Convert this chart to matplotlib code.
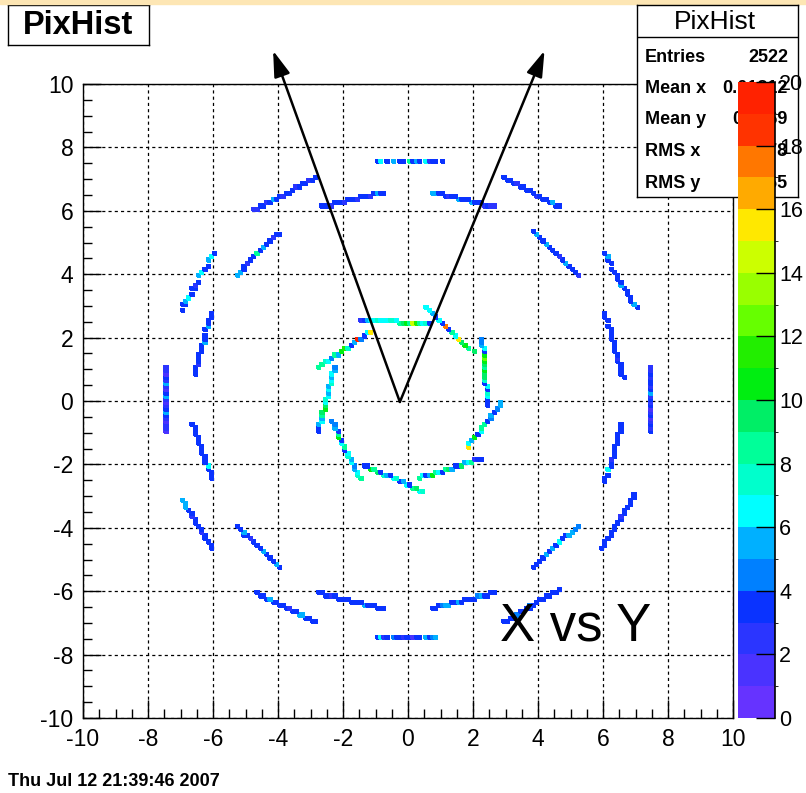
import numpy as np
import matplotlib
matplotlib.use('Agg')
import matplotlib.pyplot as plt
from matplotlib.colors import ListedColormap, BoundaryNorm
from matplotlib.patches import Rectangle

plt.rcParams['font.family'] = ['Liberation Sans', 'DejaVu Sans']
plt.rcParams['axes.unicode_minus'] = False

# pixel module hits: (x0, y0, x1, y1) of each module strip, counts read along it
OUTER_SEGS = [
    (-1.00, 7.50, 1.00, 7.50),
    (-1.00, -7.50, 0.90, -7.50),
    (-7.48, 1.04, -7.48, -0.98),
    (7.48, 1.04, 7.48, -0.98),
    (-4.71, 6.00, -2.83, 7.03),
    (-2.62, 6.12, -0.74, 6.59),
    (-5.29, 3.97, -3.94, 5.30),
    (-6.98, 2.90, -5.97, 4.70),
    (-6.58, 0.88, -6.06, 2.71),
    (0.74, 6.59, 2.68, 6.12),
    (2.92, 7.03, 4.62, 6.12),
    (3.85, 5.33, 5.29, 3.91),
    (6.06, 4.61, 7.02, 2.97),
    (6.06, 2.74, 6.62, 0.73),
    (-6.62, -0.73, -6.03, -2.49),
    (-6.92, -3.12, -6.03, -4.61),
    (-5.29, -3.91, -3.94, -5.27),
    (-4.62, -6.06, -2.83, -6.97),
    (-2.71, -6.06, -0.71, -6.56),
    (0.74, -6.53, 2.68, -6.06),
    (2.92, -6.97, 4.68, -5.96),
    (3.85, -5.27, 5.23, -3.91),
    (5.97, -4.67, 6.98, -2.93),
    (6.06, -2.59, 6.58, -0.73),
]
OUTER_COUNTS = [
    [3, 3, 0, 3, 5, 0, 0, 3, 3, 5, 3, 3, 5, 3, 3, 3, 2, 3, 3, 3],
    [3, 3, 2, 3, 3, 1, 3, 3, 2, 3, 3, 1, 3, 3, 2, 3, 3, 4, 5],
    [2, 1, 3, 2, 5, 2, 1, 3, 5, 2, 1, 2, 3, 5, 3, 2, 1, 2, 2, 1],
    [2, 3, 2, 3, 3, 2, 3, 5, 2, 3, 2, 3, 1, 2, 3, 1, 2, 3, 2, 3],
    [2, 3, 3, 2, 3, 5, 3, 3, 2, 3, 3, 3, 2, 3, 3, 3, 2, 3, 3],
    [3, 3, 2, 3, 3, 3, 2, 3, 3, 3, 2, 3, 3, 3, 2, 3, 5, 3, 3],
    [5, 3, 3, 2, 3, 3, 8, 3, 5, 3, 3, 2, 3, 3],
    [3, 3, 5, 6, 3, 3, 3, 2, 3, 5, 3, 3, 3, 3, 5, 3, 3, 3],
    [3, 3, 2, 3, 3, 3, 3, 3, 3, 5, 3, 3, 3, 5, 3, 3, 3, 3],
    [5, 3, 3, 3, 2, 3, 3, 5, 3, 3, 3, 5, 3, 3, 3, 2, 3, 2, 2],
    [3, 3, 3, 2, 3, 3, 3, 3, 3, 2, 3, 3, 3, 3, 5, 3, 3],
    [3, 5, 3, 3, 5, 3, 3, 3, 2, 3, 5, 3, 3, 3, 2],
    [3, 5, 3, 3, 3, 3, 3, 3, 3, 5, 3, 3, 3, 3, 3, 5, 3],
    [3, 3, 0, 3, 3, 3, 3, 3, 3, 3, 3, 3, 3, 2, 3, 3, 3, 3, 3, 3],
    [3, 3, 3, 3, 3, 3, 3, 3, 3, 3, 3, 3, 3, 3, 3, 3, 3, 3],
    [5, 5, 3, 3, 2, 3, 3, 3, 3, 2, 3, 3, 3, 3, 3],
    [3, 5, 3, 3, 2, 3, 3, 3, 5, 3, 3, 3, 5, 3],
    [3, 3, 3, 5, 3, 3, 3, 3, 3, 2, 3, 3, 5, 5, 3, 3, 3, 3],
    [3, 3, 3, 2, 3, 3, 3, 3, 3, 3, 3, 3, 3, 5, 3, 3, 3, 3, 3, 3],
    [3, 3, 4, 5, 5, 3, 3, 5, 3, 3, 3, 3, 3, 4, 5, 3, 3, 3, 3],
    [3, 3, 3, 4, 3, 3, 3, 3, 4, 3, 3, 3, 3, 3, 3, 3, 3, 3],
    [3, 3, 3, 5, 3, 5, 3, 6, 3, 3, 5, 5, 4, 4],
    [3, 3, 3, 3, 3, 3, 3, 3, 3, 3, 2, 3, 3, 3, 3, 3, 3, 3],
    [3, 3, 0, 3, 3, 3, 3, 2, 3, 3, 3, 3, 3, 3, 3, 3, 3, 3],
]

INNER_SEGS = [
    (-1.48, 2.55, 0.62, 2.46),
    (0.55, 2.93, 2.00, 1.55),
    (2.28, 1.92, 2.46, -0.16),
    (2.89, -0.03, 1.82, -1.48),
    (2.28, -1.83, 0.37, -2.43),
    (-1.38, -2.02, 0.46, -2.87),
    (-2.34, -0.69, -1.48, -2.49),
    (-2.77, -0.95, -2.25, 1.04),
    (-2.71, 1.07, -1.14, 2.18),
]
INNER_COUNTS = [
    [2, 3, 5, 6, 6, 7, 6, 6, 6, 7, 7, 6, 8, 9, 10, 8, 14, 11, 8, 6, 7, 3],
    [6, 5, 3, 6, 3, 17, 3, 8, 6, 15, 9, 10, 8, 9],
    [4, 5, 6, 3, 10, 12, 10, 9, 8, 10, 9, 7, 3, 6, 3, 7, 6, 3, 3, 3],
    [5, 4, 3, 5, 4, 3, 8, 6, 3, 10, 5, 6, 15],
    [3, 2, 8, 6, 5, 9, 3, 3, 5, 9, 8, 3, 6, 8, 10, 5, 3, 6, 8],
    [3, 10, 8, 9, 3, 7, 5, 3, 6, 7, 3, 5, 6, 3, 8, 9, 6, 7],
    [4, 5, 3, 8, 10, 3, 6, 8, 3, 6, 7, 5, 6, 4, 5, 6, 7, 8],
    [3, 5, 6, 5, 8, 9, 10, 9, 6, 7, 6, 5, 6, 5, 7, 6, 5, 6, 5, 4],
    [8, 7, 6, 4, 8, 5, 10, 11, 7, 3, 5, 19, 4, 3, 6, 15],
]

PALETTE = ['#6633ff', '#4a33ff', '#2b35ff', '#0a33ff', '#0080ff',
           '#00b0ff', '#00ffff', '#00ffcc', '#00ff99', '#00ee66',
           '#00ee11', '#22ee00', '#66ff00', '#99ff00', '#ccff00',
           '#ffe800', '#ffaa00', '#ff7700', '#ff3300', '#ff2200']

STAT_LABELS = ['Entries', 'Mean x', 'Mean y', 'RMS x', 'RMS y']
STAT_VALUES = ['2522', '0.01812', '0.0169', '3.678', '3.665']


def cells(segs, counts):
    xs, ys, ws = [], [], []
    for (x0, y0, x1, y1), c in zip(segs, counts):
        n = int(round(max(abs(x1 - x0), abs(y1 - y0)) / 0.1)) + 1
        t = np.linspace(0, 1, n)
        idx = np.arange(n) * len(c) // n
        xs.append(x0 + t * (x1 - x0))
        ys.append(y0 + t * (y1 - y0))
        ws.append(np.array(c)[idx])
    return np.concatenate(xs), np.concatenate(ys), np.concatenate(ws)


W, H = 806, 793
fig = plt.figure(figsize=(W / 100, H / 100), dpi=100)
fig.patches.append(Rectangle((0, 1 - 4 / H), 1, 4 / H, transform=fig.transFigure,
                             color='#fde6b4', zorder=0))

ax = fig.add_axes([83 / W, (H - 718) / H, 650 / W, 634 / H])
ax.set_zorder(1)

ox, oy, ow = cells(OUTER_SEGS, OUTER_COUNTS)
ix, iy, iw = cells(INNER_SEGS, INNER_COUNTS)
edges = np.linspace(-10, 10, 201)
hist, xe, ye = np.histogram2d(np.r_[ox, ix], np.r_[oy, iy], bins=[edges, edges],
                              weights=np.r_[ow, iw])
hist = np.ma.masked_where(hist <= 0, hist)

cmap = ListedColormap(PALETTE)
norm = BoundaryNorm(np.arange(0, 21), 20)
mesh = ax.pcolormesh(xe, ye, hist.T, cmap=cmap, norm=norm,
                     edgecolors='face', linewidth=1.3)

ax.set_xlim(-10, 10)
ax.set_ylim(-10, 10)
ax.set_xticks(np.arange(-10, 11, 2))
ax.set_yticks(np.arange(-10, 11, 2))
ax.set_xticks(np.arange(-10, 10.01, 0.5), minor=True)
ax.set_yticks(np.arange(-10, 10.01, 0.5), minor=True)
ax.tick_params(which='major', direction='in', length=13, width=1, labelsize=16.5, pad=7)
ax.tick_params(which='minor', direction='in', length=6.5, width=1)
ax.set_axisbelow(True)
ax.grid(which='major', color='black', linestyle=(0, (2.5, 2.5)), linewidth=0.9)
for s in ax.spines.values():
    s.set_linewidth(1)

for tip in [(-4.15, 11.05), (4.2, 11.05)]:
    ax.annotate('', xy=tip, xytext=(-0.25, -0.03), annotation_clip=False,
                arrowprops=dict(arrowstyle='-|>,head_length=1.05,head_width=0.33',
                                mutation_scale=15, lw=1.8, color='black',
                                shrinkA=0, shrinkB=0))

ax.text(2.83, -7.57, 'X vs Y', fontsize=38, ha='left', va='baseline')

# palette axis
cax = fig.add_axes([738 / W, (H - 718) / H, 37 / W, 636 / H])
cax.set_zorder(3)
cb = fig.colorbar(mesh, cax=cax, ticks=np.arange(0, 21, 2))
cb.outline.set_visible(False)
cax.tick_params(direction='in', length=14, width=1, labelsize=15.5, pad=3)
cax.axvline(1, color='black', lw=1.2, clip_on=False)

# stat box
sax = fig.add_axes([637 / W, (H - 197) / H, 161 / W, 192 / H])
sax.set_zorder(2)
sax.set_xticks([])
sax.set_yticks([])
sax.set_xlim(637, 798)
sax.set_ylim(197, 5)
for s in sax.spines.values():
    s.set_linewidth(1)
sax.axhline(37, color='black', lw=1)
sax.text(715, 29, 'PixHist', fontsize=19, ha='center', va='baseline')
for i, (lab, val) in enumerate(zip(STAT_LABELS, STAT_VALUES)):
    y = 61.5 + i * 31.5
    sax.text(645, y, lab, fontsize=13, weight='bold', ha='left', va='baseline')
    sax.text(788, y, val, fontsize=13, weight='bold', ha='right', va='baseline')

# title box
tax = fig.add_axes([8 / W, (H - 45) / H, 141 / W, 40 / H])
tax.set_xticks([])
tax.set_yticks([])
for s in tax.spines.values():
    s.set_linewidth(1)
tax.text(0.5, 0.5, 'PixHist', fontsize=23.5, weight='bold', ha='center', va='center',
         transform=tax.transAxes)

fig.text(8 / W, (H - 786) / H, 'Thu Jul 12 21:39:46 2007', fontsize=13, weight='bold',
         ha='left', va='baseline')

fig.savefig('out.png', dpi=100)
